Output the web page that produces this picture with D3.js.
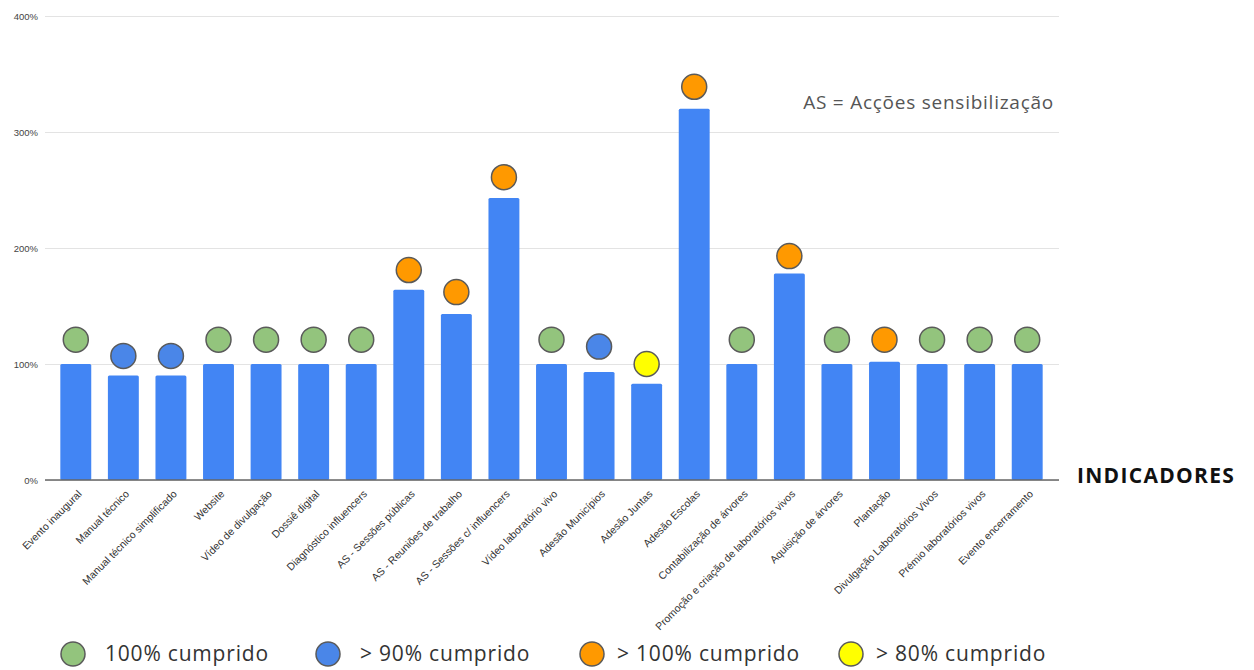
<!DOCTYPE html>
<html>
<head>
<meta charset="utf-8">
<script src="https://cdn.jsdelivr.net/npm/d3@7"></script>
<style>
  body { margin: 0; background: #fff; }
  svg { display: block; }
</style>
</head>
<body>
<svg width="1254" height="670"></svg>
<script>
// indicadores do projecto
const categories = [
  'Evento inaugural', 'Manual técnico', 'Manual técnico simplificado', 'Website',
  'Vídeo de divulgação', 'Dossiê digital', 'Diagnóstico influencers',
  'AS - Sessões públicas', 'AS -  Reuniões de trabalho', 'AS - Sessões c/ influencers',
  'Vídeo laboratório vivo', 'Adesão Municípios', 'Adesão Juntas', 'Adesão Escolas',
  'Contabilização de árvores', 'Promoção e criação de laboratórios vivos',
  'Aquisição de árvores', 'Plantação', 'Divulgação Laboratórios Vivos',
  'Prémio laboratórios vivos', 'Evento encerramento'
];

// % cumprido
const values = [100, 90, 90, 100, 100, 100, 100, 164, 143, 243, 100, 93, 83, 320, 100, 178, 100, 102, 100, 100, 100];

// nível (em %) onde fica o círculo de estado
const markerLevels = [121, 107, 107, 121, 121, 121, 121, 181, 162, 261, 121, 115, 100, 339, 121, 193, 121, 121, 121, 121, 121];

// estado de cada indicador
const status = ['ok', 'g90', 'g90', 'ok', 'ok', 'ok', 'ok', 'g100', 'g100', 'g100', 'ok', 'g90', 'g80', 'g100', 'ok', 'g100', 'ok', 'g100', 'ok', 'ok', 'ok'];

const yTicks = [0, 100, 200, 300, 400];

const legendKeys = ['ok', 'g90', 'g100', 'g80'];
const legendLabels = ['100% cumprido', '> 90% cumprido', '> 100% cumprido', '> 80% cumprido'];
const statusColors = ['#93c47d', '#4a86e8', '#ff9900', '#ffff00'];

const svg = d3.select('svg');

const color = d3.scaleOrdinal().domain(legendKeys).range(statusColors);

const x = d3.scaleBand()
  .domain(categories)
  .range([52, 1051])
  .paddingInner(0.35)
  .paddingOuter(0.175);

const y = d3.scaleLinear().domain([0, 400]).range([480, 16]);

const gridLeft = 45, gridRight = 1059;

// grelha + eixo y
const yAxis = svg.append('g')
  .attr('transform', `translate(${gridLeft},0)`)
  .call(d3.axisLeft(y).tickValues(yTicks).tickFormat(d => d + '%')
    .tickSize(-(gridRight - gridLeft)).tickPadding(7));
yAxis.select('.domain').remove();
yAxis.selectAll('.tick line').attr('stroke', '#e3e3e3').attr('stroke-width', 1);
yAxis.selectAll('.tick text')
  .attr('fill', '#444')
  .style('font-family', 'Liberation Sans, Arial, sans-serif')
  .style('font-size', '9.5px');

// barras
svg.append('g')
  .selectAll('rect')
  .data(values)
  .join('rect')
  .attr('x', (d, i) => x(categories[i]))
  .attr('y', d => y(d))
  .attr('width', x.bandwidth())
  .attr('height', d => y(0) - y(d))
  .attr('rx', 1.5)
  .attr('fill', '#4285f4');

// linha de base
svg.append('line')
  .attr('x1', gridLeft).attr('x2', gridRight)
  .attr('y1', y(0)).attr('y2', y(0))
  .attr('stroke', '#666').attr('stroke-width', 1.3);

// eixo x com rótulos rodados
const xAxis = svg.append('g')
  .attr('transform', `translate(0,${y(0)})`)
  .call(d3.axisBottom(x).tickSize(0));
xAxis.select('.domain').remove();
xAxis.selectAll('.tick text')
  .attr('x', 0).attr('y', 0).attr('dy', '0.35em')
  .attr('text-anchor', 'end')
  .attr('transform', 'translate(4,12) rotate(-45)')
  .attr('fill', '#333')
  .style('font-family', 'Liberation Sans, Arial, sans-serif')
  .style('font-size', '10.5px');

// círculos de estado
svg.append('g')
  .selectAll('circle')
  .data(markerLevels)
  .join('circle')
  .attr('cx', (d, i) => x(categories[i]) + x.bandwidth() / 2)
  .attr('cy', d => y(d))
  .attr('r', 12.5)
  .attr('fill', (d, i) => color(status[i]))
  .attr('stroke', '#5a5a5a')
  .attr('stroke-width', 1.5);

// notas
svg.append('text')
  .attr('x', 1054).attr('y', 109)
  .attr('text-anchor', 'end')
  .attr('fill', '#555')
  .style('font-family', 'Open Sans, sans-serif')
  .style('font-size', '19px')
  .style('letter-spacing', '0.75px')
  .text('AS = Acções sensibilização');

svg.append('text')
  .attr('x', 1077).attr('y', 483)
  .attr('fill', '#111')
  .style('font-family', 'Open Sans, sans-serif')
  .style('font-weight', 'bold')
  .style('font-size', '21px')
  .style('letter-spacing', '1.3px')
  .text('INDICADORES');

// legenda
const legendX = [73, 328, 592, 851];
const legend = svg.append('g')
  .selectAll('g')
  .data(legendKeys)
  .join('g')
  .attr('transform', (d, i) => `translate(${legendX[i]},654)`);

legend.append('circle')
  .attr('r', 12)
  .attr('fill', d => color(d))
  .attr('stroke', '#5a5a5a')
  .attr('stroke-width', 1.5);

legend.append('text')
  .attr('x', (d, i) => i < 2 ? 32 : 25)
  .attr('dy', '0.35em')
  .attr('fill', '#333')
  .style('font-family', 'Open Sans, sans-serif')
  .style('font-size', '21px')
  .style('letter-spacing', '0.8px')
  .text((d, i) => legendLabels[i]);
</script>
</body>
</html>
